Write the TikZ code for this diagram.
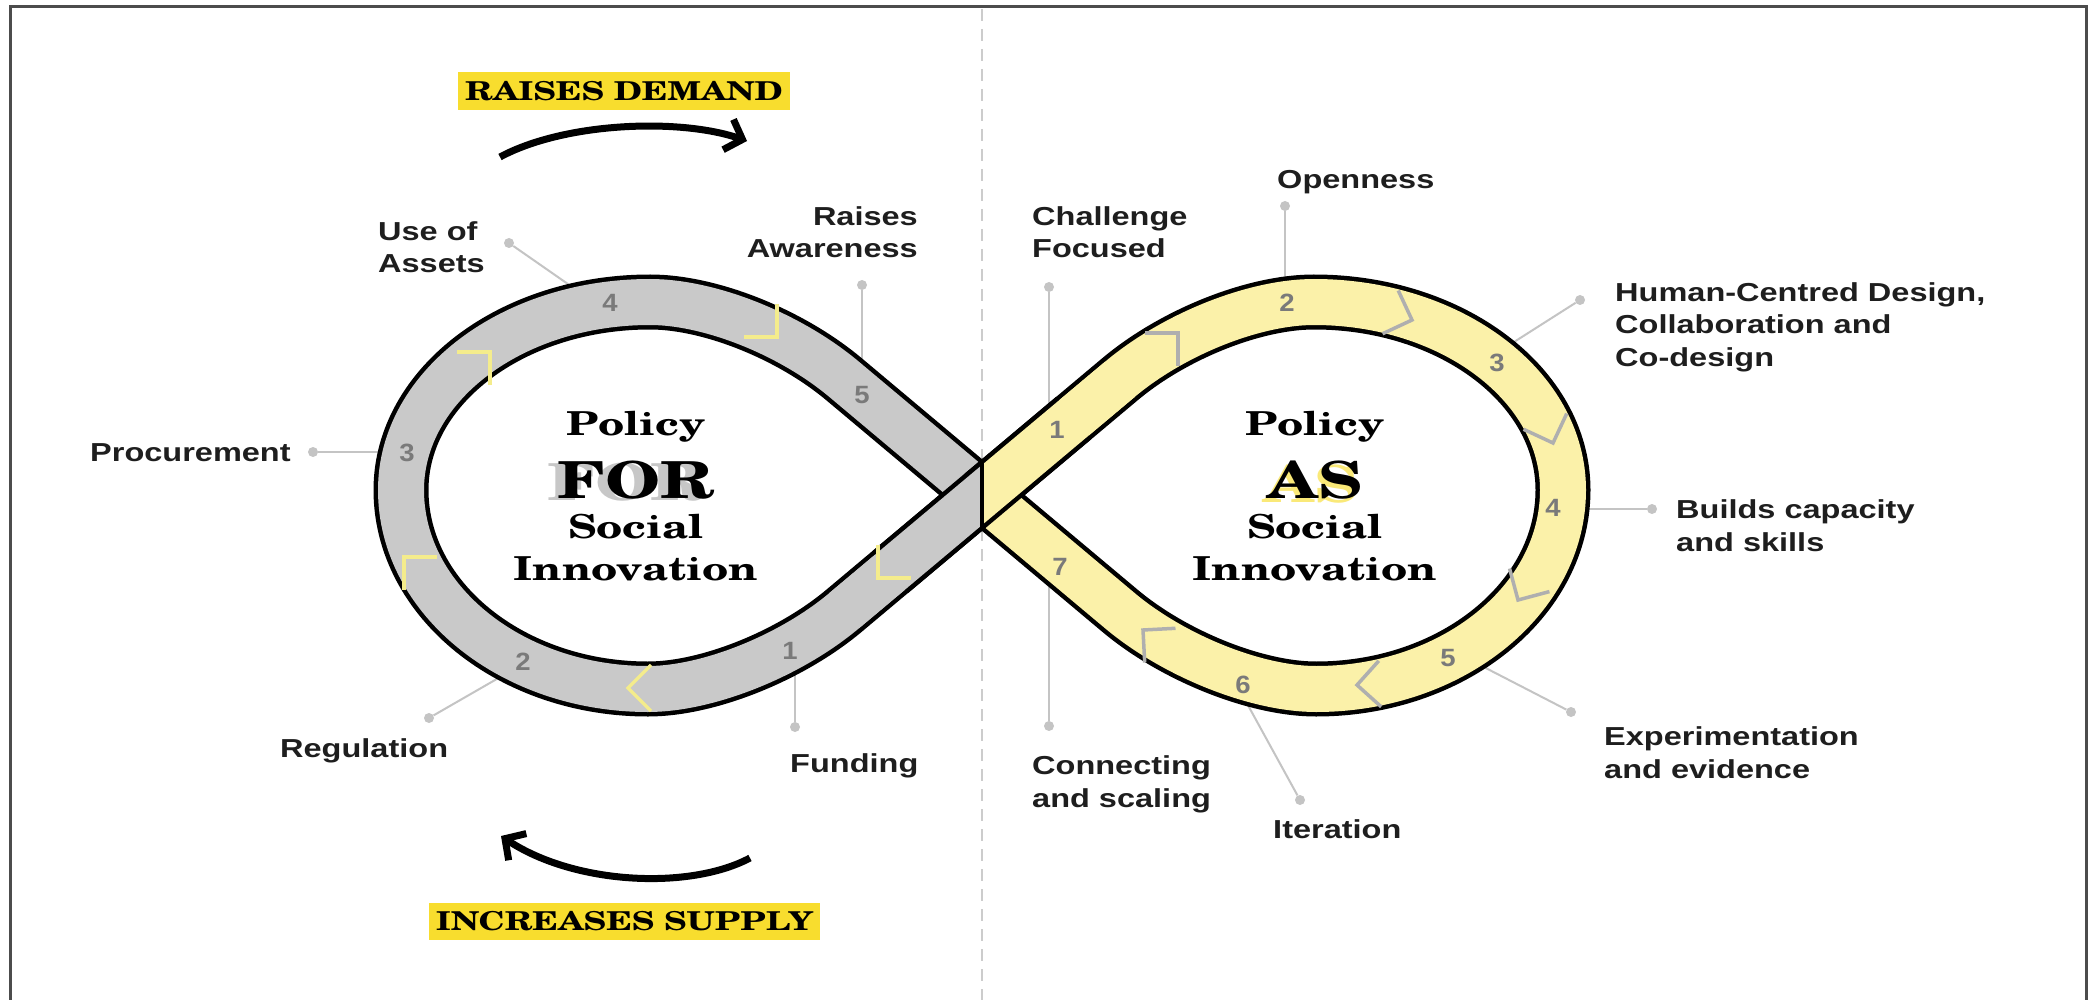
\documentclass[tikz,border=0pt]{standalone}
\usepackage{fontspec}
\usetikzlibrary{arrows.meta}
\newfontfamily\lblfont{Liberation Sans}[FakeStretch=1.25]
\newfontfamily\numfont{Liberation Sans}[FakeStretch=1.1]
\newfontfamily\schfont{texgyreschola-bold.otf}[FakeStretch=1.3]
\definecolor{bandgray}{HTML}{C9C9C9}
\definecolor{bandyel}{HTML}{FBF1A9}
\definecolor{boxyel}{HTML}{F8DD2E}
\definecolor{chevyel}{HTML}{F4EC8C}
\definecolor{chevgray}{HTML}{AFAFAF}
\definecolor{leadgray}{HTML}{C4C4C4}
\definecolor{numgray}{HTML}{7A7A7A}
\definecolor{txt}{HTML}{1E1E1E}
\tikzset{
  lbl/.style={font=\lblfont\bfseries\fontsize{26}{32.5}\selectfont, text=txt, inner sep=0pt, align=left},
  lblr/.style={lbl, align=right},
  num/.style={font=\numfont\bfseries\fontsize{25}{30}\selectfont, text=numgray, inner sep=0pt},
  ctr/.style={font=\schfont\fontsize{33}{40}\selectfont, text=black, inner sep=0pt, anchor=base},
  big/.style={font=\schfont\fontsize{51}{60}\selectfont, text=black, inner sep=0pt, anchor=base},
  tag/.style={font=\schfont\fontsize{26}{30}\selectfont, fill=boxyel, text=black, inner sep=0pt},
  lead/.style={draw=leadgray, line width=2pt},
  ldot/.style={circle, fill=leadgray, inner sep=0pt, minimum size=10pt},
  bandG/.style={draw=black, line width=55pt, postaction={draw=bandgray, line width=46pt}},
  bandY/.style={draw=black, line width=55pt, postaction={draw=bandyel, line width=46pt}},
  flow/.style={line width=7pt, -{Straight Barb[length=15pt, width=32pt]}},
  chevY/.pic={\draw[draw=chevyel, line width=3.5pt] (-23,-23) -- (0,0) -- (-23,23);},
  chevG/.pic={\draw[draw=chevgray, line width=3.5pt] (-23,-23) -- (0,0) -- (-23,23);},
}
\begin{document}
\begin{tikzpicture}[x=1pt, y=-1pt]
\useasboundingbox (0,0) rectangle (2099,1000);
\fill[white] (0,0) rectangle (2099,1000);
% frame
\coordinate (bl) at (10,1000); \coordinate (tl) at (10,7);
\coordinate (tr) at (2086,7); \coordinate (br) at (2086,1000);
\draw[draw=black!70, line width=3pt] (bl) -- (tl) -- (tr) -- (br);
% dashed divider
\coordinate (dtop) at (982,9); \coordinate (dbot) at (982,1000);
\draw[draw=gray!40, line width=2pt, dash pattern=on 12pt off 8pt] (dtop) -- (dbot);

% leader lines (drawn below the bands)
\node[ldot] (dAssets) at (509,243) {}; \coordinate (eAssets) at (588,298);
\node[ldot] (dAware) at (862,285) {}; \coordinate (eAware) at (862,375);
\node[ldot] (dProc) at (313,452) {}; \coordinate (eProc) at (392,452);
\node[ldot] (dReg) at (429,718) {}; \coordinate (eReg) at (502,676);
\node[ldot] (dFund) at (795,727) {}; \coordinate (eFund) at (795,668);
\node[ldot] (dChal) at (1049,287) {}; \coordinate (eChal) at (1049,425);
\node[ldot] (dOpen) at (1285,206) {}; \coordinate (eOpen) at (1285,292);
\node[ldot] (dHum) at (1580,300) {}; \coordinate (eHum) at (1503,349);
\node[ldot] (dBuild) at (1652,509) {}; \coordinate (eBuild) at (1572,509);
\node[ldot] (dExp) at (1571,712) {}; \coordinate (eExp) at (1476,663);
\node[ldot] (dIter) at (1300,800) {}; \coordinate (eIter) at (1244,698);
\node[ldot] (dConn) at (1049,726) {}; \coordinate (eConn) at (1049,568);
\foreach \n in {Assets,Aware,Proc,Reg,Fund,Chal,Open,Hum,Build,Exp,Iter,Conn}
  \draw[lead] (d\n) -- (e\n);

% band geometry
\coordinate (X) at (982,495);
\coordinate (LJ1) at (844.1,379.3); \coordinate (LT) at (650,302);
\coordinate (LL) at (401,490); \coordinate (LB) at (648,689);
\coordinate (LJ2) at (844.1,610.7);
\coordinate (RJ1) at (1119.9,379.3); \coordinate (RT) at (1314,302);
\coordinate (RR) at (1563,490); \coordinate (RB) at (1316,689);
\coordinate (RJ2) at (1119.9,610.7);
\coordinate (K1) at (890.1,572.2); \coordinate (K2) at (1073.9,417.8);

\draw[bandG] (X) -- (LJ1) .. controls (790.5,334.3) and (710,302) .. (LT)
  .. controls (512.5,302) and (401,386) .. (LL)
  .. controls (401,600) and (512,689) .. (LB)
  .. controls (708,689) and (790.5,655.7) .. (LJ2) -- (X);
\draw[bandY] (X) -- (RJ1) .. controls (1173.5,334.3) and (1254,302) .. (RT)
  .. controls (1451.5,302) and (1563,386) .. (RR)
  .. controls (1563,600) and (1452,689) .. (RB)
  .. controls (1256,689) and (1173.5,655.7) .. (RJ2) -- (X);
% over-strand through the crossing
\draw[draw=black, line width=55pt] (K1) -- (K2);
\begin{scope}
  \clip (0,0) rectangle (982,1000);
  \draw[draw=bandgray, line width=46pt] (LJ2) -- (RJ1);
\end{scope}
\begin{scope}
  \clip (982,0) rectangle (2099,1000);
  \draw[draw=bandyel, line width=46pt] (LJ2) -- (RJ1);
\end{scope}
\coordinate (VT) at (982,462); \coordinate (VB) at (982,528);
\draw[draw=black, line width=4.5pt] (VT) -- (VB);

% chevrons
\path (878,578) pic[rotate=225] {chevY};
\path (628,688) pic[rotate=180] {chevY};
\path (404,557) pic[rotate=135] {chevY};
\path (490,352) pic[rotate=45] {chevY};
\path (777,337) pic[rotate=315] {chevY};
\path (1178,333) pic[rotate=45] {chevG};
\path (1412,320) pic[rotate=340] {chevG};
\path (1553,443) pic[rotate=290] {chevG};
\path (1518,600) pic[rotate=240] {chevG};
\path (1357,685) pic[rotate=183] {chevG};
\path (1143,630) pic[rotate=138] {chevG};

% numbers
\node[num] (l1) at (790,651) {1};
\node[num] (l2) at (523,662) {2};
\node[num] (l3) at (407,453) {3};
\node[num] (l4) at (610,303) {4};
\node[num] (l5) at (862,395) {5};
\node[num] (r1) at (1057,430) {1};
\node[num] (r2) at (1287,303) {2};
\node[num] (r3) at (1497,363) {3};
\node[num] (r4) at (1553,508) {4};
\node[num] (r5) at (1448,658) {5};
\node[num] (r6) at (1243,685) {6};
\node[num] (r7) at (1060,567) {7};

% centre texts
\node[ctr] (lpol) at (636,435) {Policy};
\node[big, text=black!22] (lforsh) at (626,500) {FOR};
\node[big] (lfor) at (636,498) {FOR};
\node[ctr] (lsoc) at (636,538) {Social};
\node[ctr] (linn) at (636,580) {Innovation};
\node[ctr] (rpol) at (1315,435) {Policy};
\node[big, text=bandyel!60!boxyel] (rassh) at (1311,502) {AS};
\node[big] (ras) at (1315,498) {AS};
\node[ctr] (rsoc) at (1315,538) {Social};
\node[ctr] (rinn) at (1315,580) {Innovation};

% labels (base anchor = baseline of the last line)
\node[lbl, anchor=base west] (tAssets) at (378,273) {Use of\\Assets};
\node[lblr, anchor=base east] (tAware) at (918,258) {Raises\\Awareness};
\node[lbl, anchor=base west] (tProc) at (90,461) {Procurement};
\node[lbl, anchor=base west] (tReg) at (280,757) {Regulation};
\node[lbl, anchor=base west] (tFund) at (790,772) {Funding};
\node[lbl, anchor=base west] (tChal) at (1032,258) {Challenge\\Focused};
\node[lbl, anchor=base west] (tOpen) at (1277,189) {Openness};
\node[lbl, anchor=base west] (tHum) at (1615,366) {Human-Centred Design,\\Collaboration and\\Co-design};
\node[lbl, anchor=base west] (tBuild) at (1676,551) {Builds capacity\\and skills};
\node[lbl, anchor=base west] (tExp) at (1604,778) {Experimentation\\and evidence};
\node[lbl, anchor=base west] (tIter) at (1273,838) {Iteration};
\node[lbl, anchor=base west] (tConn) at (1032,807) {Connecting\\and scaling};

% demand / supply
\node[tag, minimum width=332pt, minimum height=38pt] (demand) at (624,91) {RAISES DEMAND};
\node[tag, minimum width=391pt, minimum height=37pt] (supply) at (624.5,921.5) {INCREASES SUPPLY};
\coordinate (ra1) at (500,157); \coordinate (ra2) at (747,141);
\draw[flow] (ra1) .. controls (565,122) and (680,118) .. (ra2);
\coordinate (sa1) at (750,858); \coordinate (sa2) at (501,836);
\draw[flow] (sa1) .. controls (690,890) and (575,885) .. (sa2);
\end{tikzpicture}
\end{document}
